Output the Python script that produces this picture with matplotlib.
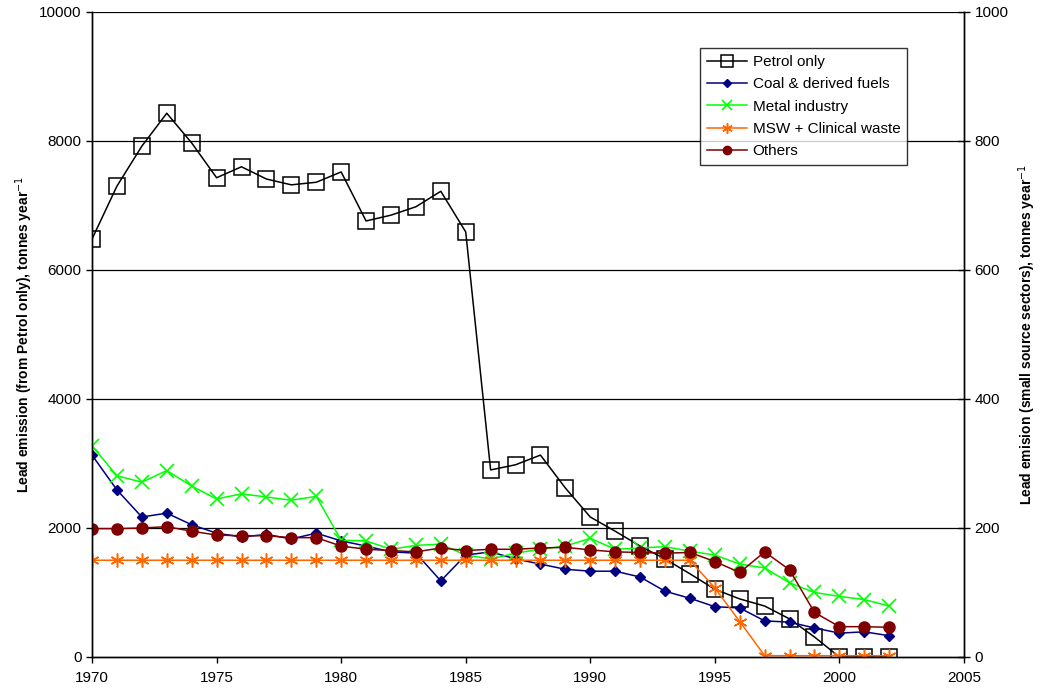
import matplotlib
matplotlib.use("Agg")
import matplotlib.pyplot as plt

plt.rcParams['font.family'] = ['Liberation Sans', 'DejaVu Sans']

# Data
years = list(range(1970, 2003))

# left axis, tonnes/year
petrol = [6480, 7300, 7920, 8430, 7970, 7430, 7600, 7410, 7320, 7360,
          7520, 6760, 6850, 6980, 7220, 6590, 2900, 2980, 3130, 2620,
          2170, 1950, 1720, 1520, 1290, 1050, 900, 790, 590, 310,
          0, 0, 0]

# right axis, tonnes/year (small source sectors)
coal = [313, 259, 217, 223, 205, 192, 186, 190, 183, 192,
        180, 172, 163, 161, 118, 158, 163, 152, 144, 136,
        133, 133, 124, 102, 91, 78, 76, 56, 54, 45,
        37, 39, 33]
metal = [327, 281, 271, 289, 265, 245, 253, 248, 243, 249,
         181, 180, 167, 173, 175, 158, 152, 161, 167, 172,
         184, 167, 169, 171, 164, 158, 144, 138, 115, 100,
         94, 89, 79]
msw = [150] * 25 + [107, 55, 2, 2, 2, 2, 2, 2]
others = [199, 199, 200, 202, 195, 189, 188, 188, 185, 185,
          172, 167, 165, 163, 169, 165, 167, 167, 169, 170,
          166, 163, 162, 161, 162, 148, 131, 163, 135, 69,
          47, 47, 46]

fig = plt.figure(figsize=(10.41, 6.92), dpi=100)
ax = fig.add_axes([0.0884, 0.0506, 0.9260 - 0.0884, 0.9827 - 0.0506])
ax2 = ax.twinx()

# Gridlines on left axis
ax.set_ylim(0, 10000)
ax.set_xlim(1970, 2005)
ax.set_yticks([0, 2000, 4000, 6000, 8000, 10000])
ax.set_xticks(range(1970, 2006, 5))
for v in [2000, 4000, 6000, 8000, 10000]:
    ax.axhline(v, color='black', lw=0.9, zorder=0)

ax2.set_ylim(0, 1000)
ax2.set_yticks([0, 200, 400, 600, 800, 1000])

h1, = ax.plot(years, petrol, color='black', lw=1.1, marker='s', ms=11,
              mfc='none', mec='black', mew=1.1, label='Petrol only')
h2, = ax2.plot(years, coal, color='#000080', lw=1.1, marker='D', ms=5.5,
               mfc='#000080', mec='#000080', label='Coal & derived fuels')
h3, = ax2.plot(years, metal, color='#00ff00', lw=1.1, marker='x', ms=10,
               mew=1.2, label='Metal industry')
h4, = ax2.plot(years, msw, color='#ff6600', lw=1.1, marker=(6, 2, 0), ms=10,
               mew=1.1, label='MSW + Clinical waste')
h5, = ax2.plot(years, others, color='#800000', lw=1.1, marker='o', ms=8,
               mfc='#800000', mec='#800000', label='Others')

ax.set_ylabel('Lead emission (from Petrol only), tonnes year$^{-1}$',
              fontsize=10, fontweight='bold', labelpad=3)
ax2.set_ylabel('Lead emision (small source sectors), tonnes year$^{-1}$',
               fontsize=10, fontweight='bold', labelpad=6)

for a in (ax, ax2):
    a.spines['top'].set_visible(False)
    for s in ('left', 'right', 'bottom'):
        a.spines[s].set_color('black')
        a.spines[s].set_linewidth(1.0)
ax.tick_params(axis='both', labelsize=11, direction='out', length=4, width=1)
ax.tick_params(axis='x', pad=6)
ax2.tick_params(axis='y', labelsize=11, direction='inout', length=8, width=1)

leg = fig.legend(handles=[h1, h2, h3, h4, h5], loc='upper left',
                 bbox_to_anchor=(700 / 1041, 1 - 48 / 692), fontsize=11,
                 frameon=True, fancybox=False, edgecolor='black',
                 handlelength=2.6, borderpad=0.45, labelspacing=0.55,
                 handletextpad=0.4, markerscale=0.75, borderaxespad=0)
leg.get_frame().set_linewidth(1.0)

fig.savefig('out.png', dpi=100)
